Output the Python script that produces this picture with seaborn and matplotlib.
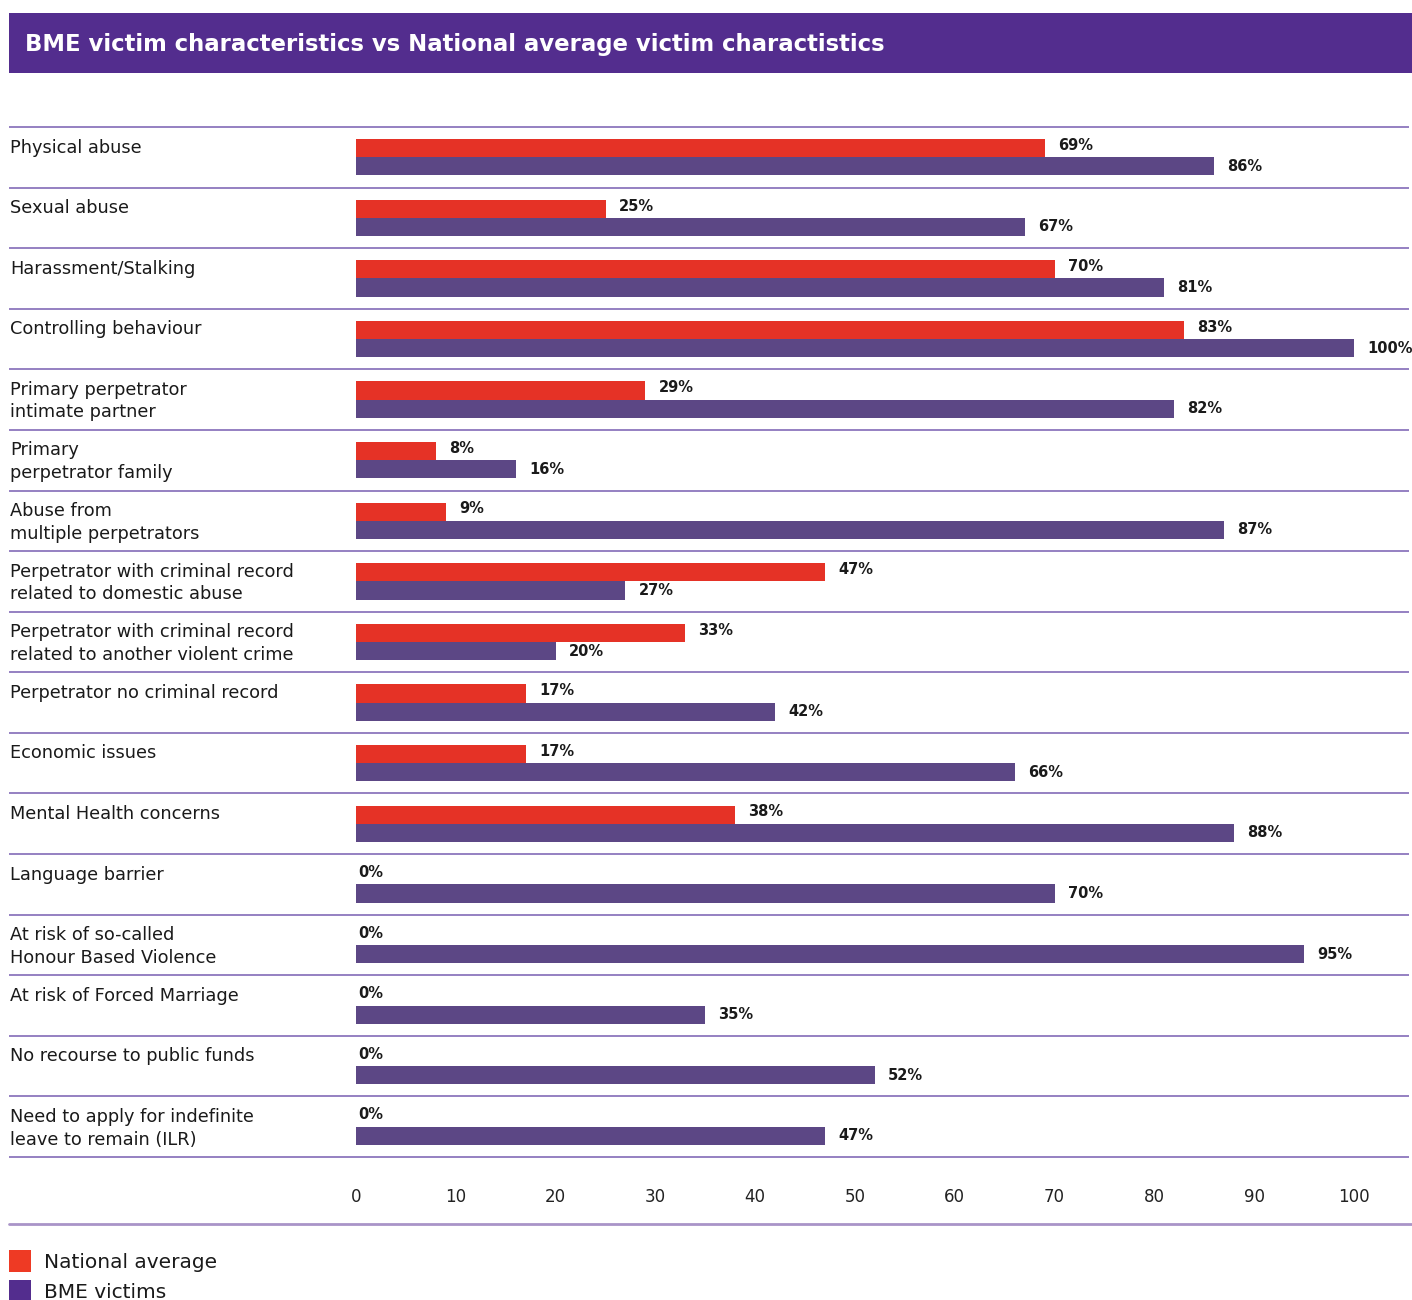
import matplotlib
matplotlib.use("Agg")
import matplotlib.pyplot as plt
import matplotlib.transforms as mtransforms
from matplotlib.patches import Rectangle
from matplotlib.lines import Line2D
import seaborn as sns
import pandas as pd

categories = [
    "Physical abuse",
    "Sexual abuse",
    "Harassment/Stalking",
    "Controlling behaviour",
    "Primary perpetrator\nintimate partner",
    "Primary\nperpetrator family",
    "Abuse from\nmultiple perpetrators",
    "Perpetrator with criminal record\nrelated to domestic abuse",
    "Perpetrator with criminal record\nrelated to another violent crime",
    "Perpetrator no criminal record",
    "Economic issues",
    "Mental Health concerns",
    "Language barrier",
    "At risk of so-called\nHonour Based Violence",
    "At risk of Forced Marriage",
    "No recourse to public funds",
    "Need to apply for indefinite\nleave to remain (ILR)",
]
national = [69, 25, 70, 83, 29, 8, 9, 47, 33, 17, 17, 38, 0, 0, 0, 0, 0]
bme = [86, 67, 81, 100, 82, 16, 87, 27, 20, 42, 66, 88, 70, 95, 35, 52, 47]
series_names = ["National average", "BME victims"]
xticks = [0, 10, 20, 30, 40, 50, 60, 70, 80, 90, 100]
title = "BME victim characteristics vs National average victim charactistics"

RED = "#e53226"
PURPLE_BAR = "#5c4785"
PURPLE_DARK = "#532d8e"
SEP = "#9580c2"
TXT = "#1a1a1a"

df = pd.DataFrame({
    "category": categories * 2,
    "value": national + bme,
    "series": [series_names[0]] * len(categories) + [series_names[1]] * len(categories),
})

sns.set_style("white")
plt.rcParams["font.family"] = ["DejaVu Sans"]

W, H = 1412, 1300
fig = plt.figure(figsize=(W / 100, H / 100), dpi=100)
ax_left, ax_right = 356, 1354
ax_top, ax_bot = 127, 1157
ax = fig.add_axes([ax_left / W, 1 - ax_bot / H, (ax_right - ax_left) / W, (ax_bot - ax_top) / H])

sns.barplot(data=df, y="category", x="value", hue="series", hue_order=series_names,
            palette=[RED, PURPLE_BAR], saturation=1, orient="h", width=0.6, errorbar=None,
            linewidth=0, ax=ax, legend=False)

n = len(categories)
ax.set_xlim(0, 100)
ax.set_ylim(n - 0.5, -0.5)
for s in ax.spines.values():
    s.set_visible(False)
ax.set_xlabel("")
ax.set_ylabel("")
ax.set_yticks([])
ax.set_xticks(xticks)
ax.set_xticklabels([str(t) for t in xticks], fontsize=12, color="#222222")
ax.tick_params(axis="x", length=0, pad=22)

# separators
x_lo = (9 - ax_left) / (ax_right - ax_left) * 100
x_hi = (1409 - ax_left) / (ax_right - ax_left) * 100
for k in range(n + 1):
    ax.hlines(k - 0.5, x_lo, x_hi, colors=SEP, linewidth=1.4, clip_on=False)

# category labels
tr = mtransforms.blended_transform_factory(fig.transFigure, ax.transData)
for i, c in enumerate(categories):
    ax.text(10 / W, i - 0.31, c, transform=tr, ha="left", va="top",
            fontsize=12.8, color=TXT, linespacing=1.33)

# value labels
for ci, (cont, vals) in enumerate(zip(ax.containers, [national, bme])):
    for p, v in zip(cont.patches, vals):
        yc = p.get_y() + p.get_height() / 2
        dx = 9.5 if v > 0 else 1.5
        dy = 2 if ci == 0 else 0
        ax.annotate(f"{v}%", xy=(v, yc), xytext=(dx, dy), textcoords="offset points",
                    ha="left", va="center", fontsize=10.5, fontweight="bold", color=TXT)

# title band
fig.patches.append(Rectangle((9 / W, 1 - 73 / H), (W - 9) / W, 60 / H,
                             transform=fig.transFigure, facecolor=PURPLE_DARK,
                             edgecolor="none", zorder=0))
fig.text(25 / W, 1 - 45 / H, title, ha="left", va="center", color="white",
         fontsize=16.4, fontweight="bold", family=["DejaVu Sans"])

# bottom line
fig.lines.append(Line2D([9 / W, 1], [1 - 1224 / H, 1 - 1224 / H], transform=fig.transFigure,
                        color="#a994c8", linewidth=2))

# legend
handles = [Rectangle((0, 0), 1, 1, facecolor=col, edgecolor="none")
           for col in ["#ee3a24", PURPLE_DARK]]
fig.legend(handles, series_names, loc="upper left", bbox_to_anchor=(9 / W, 1 - 1250 / H),
           frameon=False, fontsize=14.5, handlelength=1.1, handleheight=1.3,
           handletextpad=0.65, labelspacing=0.4, borderpad=0, borderaxespad=0,
           labelcolor=TXT)

fig.savefig("out.png", dpi=100)
